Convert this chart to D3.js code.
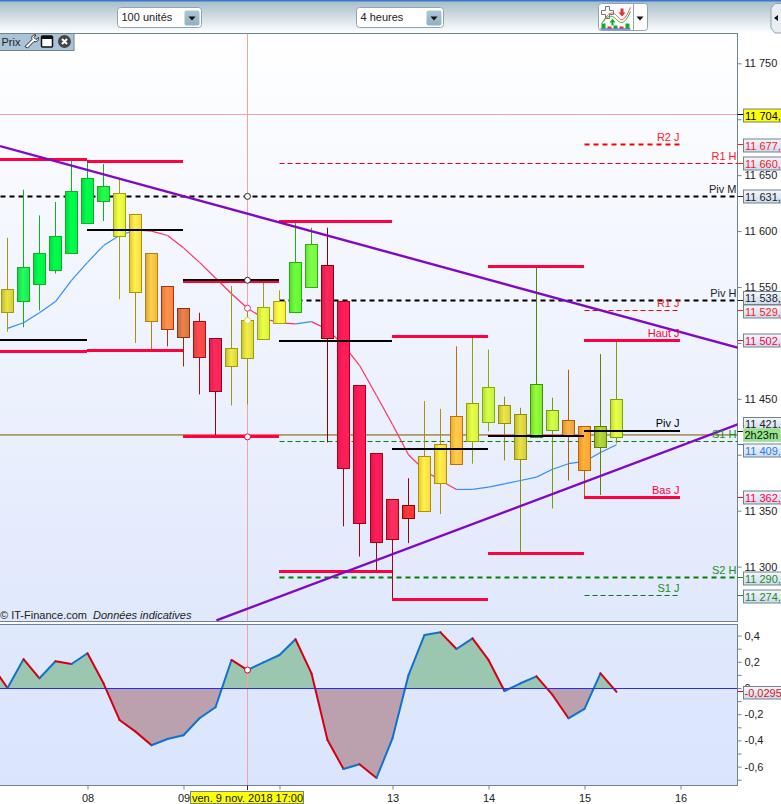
<!DOCTYPE html>
<html>
<head>
<meta charset="utf-8">
<style>
  html, body { margin: 0; padding: 0; background: #fff; overflow: hidden; }
  svg { display: block; font-family: "Liberation Sans", Arial, sans-serif; font-size: 11px; }
  .axis text { font-size: 11px; fill: #222; }
  .axis line { stroke: #71838f; }
  .axis path { display: none; }
</style>
</head>
<body>
<div id="chart"></div>
<script src="https://d3js.org/d3.v7.min.js"></script>
<script>
  // candles, 4 hour bars
  const opens  = [11527,11537,11552,11565,11580,11607,11627,11634,11615,11580,11550,11531,11519,11504,11479,11486,11503,11517,11527,11550,11569,11537,11462,11401,11360,11355,11349,11374,11391,11412,11429,11444,11436,11416,11422,11431,11425,11406,11415]
  const closes = [11548,11567,11580,11595,11635,11647,11640,11596,11545,11519,11512,11505,11487,11457,11495,11520,11532,11537,11572,11588,11504,11388,11339,11321,11324,11343,11398,11409,11434,11446,11460,11428,11396,11463,11440,11418,11386,11425,11449]
  const highs  = [11594,11637,11614,11626,11664,11663,11660,11647,11615,11580,11550,11531,11527,11504,11551,11533,11555,11547,11609,11603,11603,11537,11462,11401,11360,11379,11448,11441,11497,11506,11494,11452,11442,11568,11451,11476,11425,11490,11503]
  const lows   = [11510,11514,11529,11562,11580,11607,11609,11539,11500,11493,11497,11479,11454,11416,11444,11445,11503,11517,11527,11550,11411,11336,11309,11296,11271,11321,11349,11347,11391,11392,11421,11395,11312,11416,11352,11377,11362,11364,11410]
  const movingAvg = [11513,11518,11527,11537,11556,11572,11587,11596,11601,11600,11596,11585,11572,11558,11544,11531,11522,11518,11517,11519,11512,11498,11480,11453,11427,11400,11386,11377,11369,11369,11371,11374,11377,11380,11387,11392,11394,11402,11409]
  // oscillator starts one bar before the first candle
  const oscillator = [0.176,0,0.22,0.074,0.204,0.183,0.265,0.036,-0.244,-0.333,-0.437,-0.389,-0.361,-0.231,-0.147,0.214,0.137,0.196,0.252,0.372,0.112,-0.397,-0.618,-0.582,-0.687,-0.384,0.099,0.405,0.425,0.298,0.379,0.214,-0.023,0.036,0.089,-0.053,-0.231,-0.16,0.112,-0.0295]

  // day separators, as bar index
  const dayIndex  = [5,11,17,24,30,36,42]
  const dayLabels = ['08','09','','13','14','15','16']

  // daily high / pivot / low, one per day
  const dayStart = [-1,5,11,17,24,30,36]
  const dayEnd   = [5,11,17,24,30,36,42]
  const dayHigh  = [11664,11662,11555,11609,11506,11568,11502]
  const dayPivot = [11503,11601,11556,11502,11405.5,11417,11421.5]
  const dayLow   = [11492,11493,11416,11296,11271,11312,11362]

  const priceTicks = [11750,11700,11650,11600,11550,11500,11450,11400,11350,11300]
  // these round numbers sit under a value box, only the tick shows
  const hiddenPriceLabels = [11700,11500,11400]
  const oscTicks = [0.4,0.3,0.2,0.1,0,-0.1,-0.2,-0.3,-0.4,-0.5,-0.6,-0.7]

  // long dashed levels: value, first bar, last bar, name
  const levelValues = [11677,11660,11631,11538,11529,11412,11290,11274]
  const levelFrom   = [36,17,-1,17,36,17,17,36]
  const levelTo     = [42,46,46,46,42,46,46,42]

  const trendDown = [[-0.47,11676],[45.64,11495.5]]
  const trendUp   = [[13.06,11252],[45.64,11427.5]]

  const cursorIndex = 15
  const cursorPrice = 11704
  const lastPrice = 11418

  // ---- styles per candle
  const candleFill = ['#d4cc3c','#1ee854','#00f244','#00f244','#00f244','#00f244','#20f044','#dcf23e','#f6da44','#ecba42','#f48444','#d47642','#f44444','#f42456','#dad43e','#dcd83e','#d6f23e','#f4f240','#64f234','#74f842','#e82254','#ff1a54','#ff1a54','#f21a54','#f42a56','#f43434','#f8da42','#f6d842','#ffba42','#d2f240','#c2f242','#d8d040','#d2ca40','#84e832','#c2f040','#eaa240','#ffa232','#a4c432','#d2f040']
  const candleLine = ['#a09a10','#10b020','#10b020','#10b020','#10b020','#10b020','#10b020','#a0a010','#b09000','#b08010','#b03010','#903010','#b01010','#a00010','#9a9a10','#9a9a10','#a0a010','#b0a010','#20b010','#30b010','#900000','#b00010','#b00010','#b00010','#b00010','#a00000','#b09000','#b09000','#c07000','#90a000','#80b000','#909000','#909000','#409000','#70a000','#b06000','#c06000','#608000','#80a000']

  const width = 781, height = 804
  const plotRight = 737.5
  const mainTop = 33.5, mainBottom = 621.5
  const lowTop = 624.5, lowBottom = 785.5
  const crimson = '#ff0040', black = '#000'
  const textRed = '#ff2020', textGreen = '#228b22'

  const svg = d3.select('#chart').append('svg')
    .attr('width', width)
    .attr('height', height)

  const defs = svg.append('defs')
  function vGrad(id, stops) {
    const g = defs.append('linearGradient').attr('id', id).attr('x1', 0).attr('x2', 0).attr('y1', 0).attr('y2', 1)
    stops.forEach((c, i) => g.append('stop').attr('offset', i / (stops.length - 1)).attr('stop-color', c))
  }
  vGrad('toolbarBg', ['#a4bbc7', '#ffffff'])
  vGrad('mainBg', ['#ffffff', '#e0e8fc'])
  vGrad('lowBg', ['#e0e8fc', '#dae5fd'])
  vGrad('btnBg', ['#aec6d4', '#8fb0c4'])
  vGrad('boxBg', ['#f4f7fd', '#cdd9ee'])
  candleFill.forEach((c, i) => {
    const g = defs.append('linearGradient').attr('id', 'candle' + i)
    g.append('stop').attr('offset', 0).attr('stop-color', d3.color(c).darker(0.3))
    g.append('stop').attr('offset', 0.45).attr('stop-color', d3.color(c).brighter(0.3))
    g.append('stop').attr('offset', 1).attr('stop-color', c)
  })
  defs.append('clipPath').attr('id', 'mainClip').append('rect')
    .attr('x', 0).attr('y', mainTop).attr('width', plotRight).attr('height', mainBottom - mainTop)
  defs.append('clipPath').attr('id', 'lowClip').append('rect')
    .attr('x', 0).attr('y', lowTop).attr('width', plotRight).attr('height', lowBottom - lowTop)

  // scales, there is a small jump over the weekend bars
  const xScale = d3.scaleLinear()
    .domain([0, 22, 23, 42])
    .range([7.5, 359.5, 376.5, 680.5])
  const yScale = d3.scaleLinear()
    .domain([11750, 11300])
    .range([63.3, 566.6])
  const oscScale = d3.scaleLinear()
    .domain([0.4, -0.6])
    .range([635.6, 766.6])
  const snap = v => Math.round(v - 0.5) + 0.5

  // ---- panels
  svg.append('rect').attr('x', 0).attr('y', 0).attr('width', width).attr('height', 33).attr('fill', 'url(#toolbarBg)')
  svg.append('rect').attr('x', 0).attr('y', 0).attr('width', width).attr('height', 1.5).attr('fill', '#3a78d0')
  svg.append('rect').attr('x', -1).attr('y', mainTop).attr('width', plotRight + 1).attr('height', mainBottom - mainTop)
    .attr('fill', 'url(#mainBg)').attr('stroke', '#71838f')
  svg.append('rect').attr('x', -1).attr('y', lowTop).attr('width', plotRight + 1).attr('height', lowBottom - lowTop)
    .attr('fill', 'url(#lowBg)').attr('stroke', '#71838f')

  // ---- axes
  const priceAxis = d3.axisRight(yScale)
    .tickValues(priceTicks)
    .tickSize(4)
    .tickPadding(3)
    .tickFormat(d => hiddenPriceLabels.includes(d) ? '' : String(d).replace(/(\d{2})(\d{3})/, '$1 $2'))
  svg.append('g').attr('class', 'axis').attr('transform', `translate(${plotRight},0)`).call(priceAxis)

  const oscAxis = d3.axisRight(oscScale)
    .tickValues(oscTicks)
    .tickSize(4)
    .tickPadding(3)
    .tickFormat(d => Math.round(d * 10) % 2 ? '' : String(d).replace('.', ','))
  svg.append('g').attr('class', 'axis').attr('transform', `translate(${plotRight},0)`).call(oscAxis)

  const timeAxis = d3.axisBottom(xScale)
    .tickValues(dayIndex)
    .tickSize(4)
    .tickPadding(5)
    .tickFormat((d, i) => dayLabels[i])
  svg.append('g').attr('class', 'axis').attr('transform', `translate(0,${lowBottom})`).call(timeAxis)

  // ---- main panel
  const main = svg.append('g').attr('clip-path', 'url(#mainClip)')

  // crosshair
  main.append('line')
    .attr('x1', snap(xScale(cursorIndex))).attr('x2', snap(xScale(cursorIndex)))
    .attr('y1', mainTop).attr('y2', mainBottom)
    .attr('stroke', '#f2a3a6')
  main.append('line')
    .attr('x1', 0).attr('x2', plotRight)
    .attr('y1', snap(yScale(cursorPrice))).attr('y2', snap(yScale(cursorPrice)))
    .attr('stroke', '#f2a3a6')

  // last price, green under salmon
  main.append('line')
    .attr('x1', 0).attr('x2', plotRight)
    .attr('y1', snap(yScale(lastPrice)) + 1).attr('y2', snap(yScale(lastPrice)) + 1)
    .attr('stroke', '#7ccb7c')
  main.append('line')
    .attr('x1', 0).attr('x2', plotRight)
    .attr('y1', snap(yScale(lastPrice))).attr('y2', snap(yScale(lastPrice)))
    .attr('stroke', '#ea7a70')

  // dashed levels
  const levelColor = ['#ff0000', '#ff0000', black, black, '#ff0000', '#008000', '#008000', '#008000']
  const levelBold = [true, false, true, true, false, false, true, false]
  levelValues.forEach((v, i) => {
    main.append('line')
      .attr('x1', xScale(levelFrom[i])).attr('x2', xScale(levelTo[i]) - (levelTo[i] === 42 && !levelBold[i] ? 3 : 0))
      .attr('y1', snap(yScale(v))).attr('y2', snap(yScale(v)))
      .attr('stroke', levelColor[i])
      .attr('stroke-width', levelBold[i] ? 2 : 1)
      .attr('stroke-dasharray', levelBold[i] ? '5,4' : '5,3')
  })

  // moving average, blue going up and red going down
  movingAvg.slice(1).forEach((v, i) => {
    main.append('line')
      .attr('x1', xScale(i)).attr('y1', yScale(movingAvg[i]))
      .attr('x2', xScale(i + 1)).attr('y2', yScale(v))
      .attr('stroke', v >= movingAvg[i] ? '#3090f4' : '#ff3064')
      .attr('stroke-width', 1.2)
  })

  // candles
  const candles = main.selectAll('.candle')
    .data(d3.range(opens.length))
    .join('g')
    .attr('class', 'candle')
  candles.append('line')
    .attr('x1', i => snap(xScale(i))).attr('x2', i => snap(xScale(i)))
    .attr('y1', i => yScale(highs[i])).attr('y2', i => yScale(lows[i]))
    .attr('stroke', i => candleLine[i])
  candles.append('rect')
    .attr('x', i => snap(xScale(i)) - 6)
    .attr('width', 12)
    .attr('y', i => snap(yScale(Math.max(opens[i], closes[i]))))
    .attr('height', i => Math.round(yScale(Math.min(opens[i], closes[i])) - yScale(Math.max(opens[i], closes[i]))))
    .attr('fill', i => `url(#candle${i})`)
    .attr('stroke', i => candleLine[i])

  // daily high, low and pivot
  function daySegments(values, color, thick) {
    main.selectAll(null)
      .data(values)
      .join('line')
      .attr('x1', (d, i) => dayStart[i] < 0 ? 0 : xScale(dayStart[i]) - 0.5)
      .attr('x2', (d, i) => xScale(dayEnd[i]) - 0.5)
      .attr('y1', d => thick === 3 ? snap(yScale(d)) : Math.round(yScale(d)))
      .attr('y2', d => thick === 3 ? snap(yScale(d)) : Math.round(yScale(d)))
      .attr('stroke', color)
      .attr('stroke-width', thick)
  }
  daySegments(dayHigh, crimson, 3)
  daySegments(dayLow, crimson, 3)
  daySegments(dayPivot, black, 2)

  // trend lines
  ;[trendDown, trendUp].forEach(t => {
    main.append('path')
      .attr('d', d3.line().x(d => xScale(d[0])).y(d => yScale(d[1]))(t))
      .attr('fill', 'none')
      .attr('stroke', '#8209c4')
      .attr('stroke-width', 2.4)
  })

  // crosshair markers
  const cursorMarks = [[11631, '#222'], [dayPivot[2], '#222'], [movingAvg[cursorIndex], '#ff3064'], [closes[cursorIndex], '#d8d840'], [dayLow[2], crimson]]
  cursorMarks.forEach(m => {
    main.append('circle')
      .attr('cx', snap(xScale(cursorIndex))).attr('cy', yScale(m[0])).attr('r', 3)
      .attr('fill', '#fff').attr('stroke', m[1]).attr('stroke-width', 1)
  })

  // text on the levels
  const chartLabels = [
    ['R2 J', 42, 11677, textRed], ['R1 H', 46, 11660, textRed], ['Piv M', 46, 11631, '#222'],
    ['Piv H', 46, 11538, '#222'], ['R1 J', 42, 11529, textRed], ['Haut J', 42, 11502, crimson],
    ['Piv J', 42, 11421.5, black], ['S1 H', 46, 11412, textGreen], ['Bas J', 42, 11362, crimson],
    ['S2 H', 46, 11290, textGreen], ['S1 J', 42, 11274, textGreen]
  ]
  chartLabels.forEach(l => {
    svg.append('text')
      .attr('x', l[1] === 42 ? xScale(42) - 1 : plotRight - 1)
      .attr('y', snap(yScale(l[2])) - 3.5)
      .attr('text-anchor', 'end')
      .attr('fill', l[3])
      .text(l[0])
  })

  svg.append('text').attr('x', 0).attr('y', 619).attr('fill', '#222').text('© IT-Finance.com')
  svg.append('text').attr('x', 93).attr('y', 619).attr('fill', '#222').attr('font-style', 'italic').text('Données indicatives')

  // ---- oscillator panel
  const low = svg.append('g').attr('clip-path', 'url(#lowClip)')
  const oscX = i => xScale(i - 1)
  const oscArea = d3.area().x((d, i) => oscX(i)).y0(oscScale(0)).y1(d => oscScale(d))
  const zeroY = oscScale(0)
  defs.append('clipPath').attr('id', 'aboveZero').append('rect')
    .attr('x', 0).attr('y', lowTop).attr('width', plotRight).attr('height', zeroY - lowTop)
  defs.append('clipPath').attr('id', 'belowZero').append('rect')
    .attr('x', 0).attr('y', zeroY).attr('width', plotRight).attr('height', lowBottom - zeroY)
  low.append('path').attr('d', oscArea(oscillator)).attr('fill', '#9bc6b0').attr('clip-path', 'url(#aboveZero)')
  low.append('path').attr('d', oscArea(oscillator)).attr('fill', '#bba0ae').attr('clip-path', 'url(#belowZero)')

  low.append('line')
    .attr('x1', snap(xScale(cursorIndex))).attr('x2', snap(xScale(cursorIndex)))
    .attr('y1', lowTop).attr('y2', lowBottom)
    .attr('stroke', '#f2a3a6')

  oscillator.slice(1).forEach((v, i) => {
    low.append('line')
      .attr('x1', oscX(i)).attr('y1', oscScale(oscillator[i]))
      .attr('x2', oscX(i + 1)).attr('y2', oscScale(v))
      .attr('stroke', v >= oscillator[i] ? '#0f72d2' : '#d40010')
      .attr('stroke-width', 2)
      .attr('stroke-linecap', 'round')
  })
  low.append('line')
    .attr('x1', 0).attr('x2', plotRight)
    .attr('y1', snap(zeroY)).attr('y2', snap(zeroY))
    .attr('stroke', '#2430e8')
  low.append('circle')
    .attr('cx', snap(xScale(cursorIndex))).attr('cy', oscScale(oscillator[cursorIndex + 1])).attr('r', 3)
    .attr('fill', '#fff').attr('stroke', '#d40010')

  // ---- boxes on the right axis
  function priceBox(value, label, color, boxY, h, fill) {
    const y = snap(yScale(value))
    svg.append('line').attr('x1', plotRight).attr('x2', 743).attr('y1', y).attr('y2', y).attr('stroke', color)
    svg.append('rect').attr('x', 743.5).attr('y', boxY - h / 2).attr('width', 40).attr('height', h)
      .attr('fill', fill || 'url(#boxBg)').attr('stroke', '#71838f')
    svg.append('text').attr('x', 745).attr('y', boxY + 4).attr('fill', color).text(label)
  }
  const boxValues = [11704,11677,11660,11631,11538,11529,11502,11421,11409,11362,11290,11274]
  const boxLabels = ['11 704,','11 677,','11 660,','11 631,','11 538,','11 529,','11 502,','11 421,','11 409,','11 362,','11 290,','11 274,']
  const boxColors = [black,textRed,textRed,'#222','#222',textRed,crimson,'#222','#2080f0',crimson,textGreen,textGreen]
  const boxCenter = [115.5,145.5,163.5,196.5,298,311.5,340.5,424,450.5,497.5,578.5,596.5]
  boxValues.forEach((v, i) => priceBox(v, boxLabels[i], boxColors[i], boxCenter[i], 13, i === 0 ? '#ffff00' : null))

  // countdown
  svg.append('rect').attr('x', 743.5).attr('y', 428.5).attr('width', 37).attr('height', 13).attr('fill', '#93e48b').attr('stroke', '#b8dcb0')
  svg.append('text').attr('x', 744.5).attr('y', 439).attr('fill', '#111').text('2h23m')

  // oscillator value
  svg.append('line').attr('x1', plotRight).attr('x2', 743).attr('y1', 691.5).attr('y2', 691.5).attr('stroke', '#e01010')
  svg.append('rect').attr('x', 743.5).attr('y', 686.5).attr('width', 40).attr('height', 12.5).attr('fill', 'url(#boxBg)').attr('stroke', '#71838f')
  svg.append('text').attr('x', 744.5).attr('y', 697).attr('fill', '#e01010').text('-0,0295')

  // date under the crosshair
  svg.append('line').attr('x1', snap(xScale(cursorIndex))).attr('x2', snap(xScale(cursorIndex))).attr('y1', lowBottom).attr('y2', 790).attr('stroke', '#222')
  svg.append('rect').attr('x', 190.5).attr('y', 791.5).attr('width', 113).attr('height', 12).attr('fill', '#ffff00').attr('stroke', '#71838f')
  svg.append('text').attr('x', 192).attr('y', 801.5).attr('fill', '#111').text('ven. 9 nov. 2018 17:00')

  // ---- toolbar
  function dropdown(x, w, label) {
    const g = svg.append('g').attr('transform', `translate(${x},7.5)`)
    g.append('rect').attr('width', w).attr('height', 20).attr('rx', 3).attr('fill', '#fff').attr('stroke', '#8ea4b2')
    g.append('text').attr('x', 4).attr('y', 13).attr('fill', '#222').text(label)
    g.append('rect').attr('x', w - 17).attr('y', 3).attr('width', 15).attr('height', 15).attr('rx', 2).attr('fill', 'url(#btnBg)')
    g.append('path').attr('d', `M${w - 13},9h7l-3.5,4z`).attr('fill', '#111')
  }
  dropdown(117.5, 84, '100 unités')
  dropdown(356.5, 87, '4 heures')

  // indicator button
  const ind = svg.append('g').attr('transform', 'translate(598.5,3.5)')
  ind.append('rect').attr('width', 49).attr('height', 27).attr('rx', 3).attr('fill', '#fff').attr('stroke', '#8ea4b2')
  ind.append('line').attr('x1', 35).attr('x2', 35).attr('y1', 0).attr('y2', 27).attr('stroke', '#8ea4b2')
  ind.append('path').attr('d', 'M3,7h4v-4h4v4h4v4h-4v4h-4v-4h-4z').attr('fill', '#fff').attr('stroke', '#777')
  ind.append('path').attr('d', 'M5,18C10,8 14,8 18,12S24,22 32,4').attr('fill', 'none').attr('stroke', '#ef4a4a')
  ind.append('path').attr('d', 'M3,20C10,10 14,12 18,16S26,22 32,8').attr('fill', 'none').attr('stroke', '#2fae2f')
  ind.append('path').attr('d', 'M11,19l3,-4l3,4h-2v3h-2v-3z').attr('fill', '#10b020')
  ind.append('path').attr('d', 'M22,5h3v4h2l-3.5,4l-3.5,-4h2z').attr('fill', '#e03030')
  ;[[3, 5, '#10b020'], [9, 2, '#e03030'], [15, 3, '#10b020'], [21, 2, '#e03030'], [27, 5, '#10b020']].forEach(b => {
    ind.append('rect').attr('x', b[0]).attr('y', 25 - b[1]).attr('width', 4).attr('height', b[1]).attr('fill', b[2])
  })
  ind.append('line').attr('x1', 2).attr('x2', 32).attr('y1', 25.5).attr('y2', 25.5).attr('stroke', '#2030c0')
  ind.append('path').attr('d', 'M38,13h7l-3.5,4z').attr('fill', '#111')

  // button cut by the right edge
  svg.append('path').attr('d', 'M781,3.5H775L771,8V28L775,33H781').attr('fill', '#e8eef2').attr('stroke', '#8ea4b2')
  svg.append('path').attr('d', 'M778,15v6l-4,-3z').attr('fill', '#111')

  // tag of the price panel
  const tag = svg.append('g').attr('transform', 'translate(0,33.5)')
  tag.append('rect').attr('x', -1).attr('width', 75).attr('height', 17).attr('fill', '#a9c4d8').attr('stroke', '#71838f')
  tag.append('text').attr('x', 1.5).attr('y', 12).attr('fill', '#222').text('Prix')
  tag.append('path').attr('d', 'M25,13l7,-7c-1,-3 1,-5 4,-4.5l-2,2.5 2,2 2.5,-2c.5,3 -2,5 -4.5,4l-6.5,6.5z')
    .attr('fill', '#fff').attr('stroke', '#222')
  tag.append('rect').attr('x', 41.5).attr('y', 2.5).attr('width', 11).attr('height', 11).attr('rx', 1).attr('fill', '#fff').attr('stroke', '#111').attr('stroke-width', 1.5)
  tag.append('rect').attr('x', 41.5).attr('y', 2.5).attr('width', 11).attr('height', 3).attr('fill', '#111')
  tag.append('circle').attr('cx', 64.5).attr('cy', 8).attr('r', 6.5).attr('fill', '#444')
  tag.append('path').attr('d', 'M62,5.5l5,5M67,5.5l-5,5').attr('stroke', '#fff').attr('stroke-width', 2)
</script>
</body>
</html>
